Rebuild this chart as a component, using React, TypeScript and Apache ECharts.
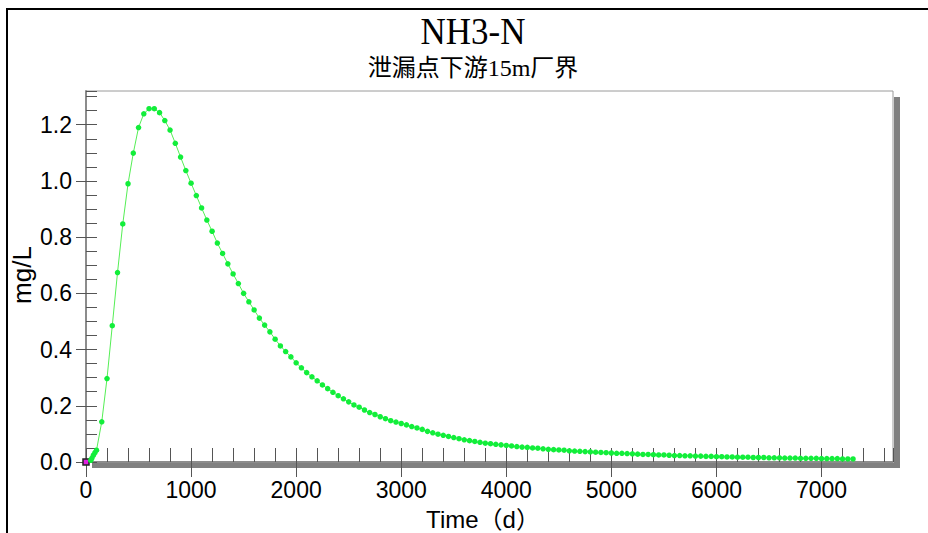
import React, { useEffect, useRef } from "react";
import * as echarts from "echarts";

// Time (d)
const times: number[] = [
  0, 45, 55, 70, 85, 100, 150, 200, 250, 300, 350, 400, 450, 500, 550, 600, 650, 700, 750, 800,
  850, 900, 950, 1000, 1050, 1100, 1150, 1200, 1250, 1300, 1350, 1400, 1450, 1500, 1550, 1600,
  1650, 1700, 1750, 1800, 1850, 1900, 1950, 2000, 2050, 2100, 2150, 2200, 2250, 2300, 2350, 2400,
  2450, 2500, 2550, 2600, 2650, 2700, 2750, 2800, 2850, 2900, 2950, 3000, 3050, 3100, 3150, 3200,
  3250, 3300, 3350, 3400, 3450, 3500, 3550, 3600, 3650, 3700, 3750, 3800, 3850, 3900, 3950, 4000,
  4050, 4100, 4150, 4200, 4250, 4300, 4350, 4400, 4450, 4500, 4550, 4600, 4650, 4700, 4750, 4800,
  4850, 4900, 4950, 5000, 5050, 5100, 5150, 5200, 5250, 5300, 5350, 5400, 5450, 5500, 5550, 5600,
  5650, 5700, 5750, 5800, 5850, 5900, 5950, 6000, 6050, 6100, 6150, 6200, 6250, 6300, 6350, 6400,
  6450, 6500, 6550, 6600, 6650, 6700, 6750, 6800, 6850, 6900, 6950, 7000, 7050, 7100, 7150, 7200,
  7250, 7300,
];

// NH3-N concentration (mg/L)
const concentration: number[] = [
  0, 0.006, 0.013, 0.024, 0.033, 0.042, 0.143, 0.297, 0.485, 0.674, 0.847, 0.99, 1.099, 1.19, 1.239, 1.257, 1.257, 1.243, 1.215, 1.181,
  1.134, 1.085, 1.037, 0.992, 0.948, 0.904, 0.861, 0.821, 0.779, 0.742, 0.705, 0.669, 0.635, 0.6, 0.57, 0.541,
  0.512, 0.487, 0.463, 0.437, 0.413, 0.393, 0.374, 0.353, 0.335, 0.318, 0.303, 0.289, 0.274, 0.261, 0.248, 0.236,
  0.225, 0.214, 0.203, 0.195, 0.185, 0.176, 0.169, 0.161, 0.154, 0.147, 0.142, 0.137, 0.132, 0.126, 0.121, 0.116,
  0.109, 0.104, 0.099, 0.095, 0.091, 0.087, 0.083, 0.079, 0.076, 0.073, 0.07, 0.067, 0.065, 0.063, 0.061, 0.059,
  0.057, 0.055, 0.053, 0.052, 0.05, 0.049, 0.047, 0.045, 0.044, 0.043, 0.042, 0.04, 0.039, 0.038, 0.037, 0.036,
  0.035, 0.034, 0.033, 0.032, 0.031, 0.031, 0.03, 0.029, 0.028, 0.027, 0.027, 0.026, 0.025, 0.025, 0.024, 0.023,
  0.023, 0.022, 0.022, 0.021, 0.021, 0.02, 0.02, 0.019, 0.019, 0.018, 0.018, 0.017, 0.017, 0.017, 0.016, 0.016,
  0.016, 0.015, 0.015, 0.015, 0.014, 0.014, 0.014, 0.013, 0.013, 0.013, 0.013, 0.012, 0.012, 0.012, 0.012, 0.011,
  0.011, 0.011,
];

const titleText = "NH3-N";
const subtitleText = "泄漏点下游15m厂界";
const xAxisName = "Time（d）";
const yAxisName = "mg/L";
const xMax = 7680;
const yMax = 1.32;

const W = 928;
const H = 533;
const G_LEFT = 86;
const G_TOP = 91;
const G_RIGHT = 893;
const G_BOTTOM = 462;

const SANS = "'Liberation Sans', Arial, sans-serif";
const SERIF = "'Liberation Serif', 'Times New Roman', 'Noto Sans CJK SC', serif";

export default function App() {
  const ref = useRef<HTMLDivElement>(null);
  useEffect(() => {
    if (!ref.current) return;
    const chart = echarts.init(ref.current, undefined, { renderer: "svg" });
    const data = times.map((t, i) => {
      if (i === 0) {
        return {
          value: [t, concentration[i]],
          symbol: "rect",
          symbolSize: 6,
          itemStyle: { color: "#e020e0", borderColor: "#222", borderWidth: 1.5 },
        };
      }
      return [t, concentration[i]];
    });
    const tickColor = "#555";
    const axisColor = "#8c8c8c";
    chart.setOption({
      animation: false,
      backgroundColor: "#fff",
      grid: {
        left: G_LEFT,
        top: G_TOP,
        width: G_RIGHT - G_LEFT,
        height: G_BOTTOM - G_TOP,
        show: true,
        backgroundColor: "#fff",
        borderColor: "#9a9a9a",
        borderWidth: 1,
      },
      xAxis: [
        {
          type: "value",
          position: "bottom",
          min: 0,
          max: xMax,
          interval: 1000,
          axisLine: { show: true, lineStyle: { color: axisColor, width: 2 } },
          axisTick: { show: true, inside: false, length: 15, lineStyle: { color: tickColor, width: 1 } },
          axisLabel: {
            show: true,
            showMaxLabel: false,
            margin: 16,
            color: "#000",
            fontSize: 23,
            fontFamily: SANS,
            formatter: (v: number) => String(v),
          },
          splitLine: { show: false },
        },
        {
          type: "value",
          position: "bottom",
          min: 0,
          max: xMax,
          interval: 200,
          axisLine: { show: false },
          axisTick: { show: true, inside: true, length: 14, lineStyle: { color: tickColor, width: 1 } },
          axisLabel: { show: false },
          splitLine: { show: false },
        },
      ],
      yAxis: [
        {
          type: "value",
          position: "left",
          min: 0,
          max: yMax,
          interval: 0.2,
          axisLine: { show: true, lineStyle: { color: axisColor, width: 2 } },
          axisTick: { show: true, inside: false, length: 10, lineStyle: { color: tickColor, width: 1 } },
          axisLabel: {
            show: true,
            showMaxLabel: false,
            margin: 14,
            color: "#000",
            fontSize: 23,
            fontFamily: SANS,
            formatter: (v: number) => v.toFixed(1),
          },
          splitLine: { show: false },
        },
        {
          type: "value",
          position: "left",
          min: 0,
          max: yMax,
          interval: 0.05,
          axisLine: { show: false },
          axisTick: { show: true, inside: true, length: 11, lineStyle: { color: tickColor, width: 1 } },
          axisLabel: { show: false },
          splitLine: { show: false },
        },
      ],
      series: [
        {
          type: "line",
          xAxisIndex: 0,
          yAxisIndex: 0,
          data,
          symbol: "circle",
          symbolSize: 5.5,
          showSymbol: true,
          lineStyle: { color: "#55ee55", width: 1 },
          itemStyle: { color: "#12ee3a" },
          z: 5,
        },
      ],
      graphic: [
        {
          type: "rect",
          shape: { x: 7, y: 9, width: 1000, height: 1000 },
          style: { fill: "none", stroke: "#000", lineWidth: 2 },
          silent: true,
        },
        {
          type: "rect",
          shape: { x: G_RIGHT + 1, y: G_TOP + 6, width: 6, height: G_BOTTOM - G_TOP },
          style: { fill: "#808080" },
          silent: true,
        },
        {
          type: "rect",
          shape: { x: G_LEFT + 6, y: G_BOTTOM + 1, width: G_RIGHT - G_LEFT, height: 5 },
          style: { fill: "#808080" },
          silent: true,
        },
        {
          type: "text",
          x: 473,
          y: 31,
          scaleY: 1.1,
          style: {
            text: titleText,
            fontSize: 35,
            fontFamily: SERIF,
            fill: "#000",
            textAlign: "center",
            textVerticalAlign: "middle",
          },
        },
        {
          type: "text",
          x: 473,
          y: 68,
          style: {
            text: subtitleText,
            fontSize: 24,
            fontFamily: SERIF,
            fill: "#000",
            textAlign: "center",
            textVerticalAlign: "middle",
          },
        },
        {
          type: "text",
          x: 483,
          y: 519,
          style: {
            text: xAxisName,
            fontSize: 24,
            fontFamily: SANS + ", 'Noto Sans CJK SC'",
            fill: "#000",
            textAlign: "center",
            textVerticalAlign: "middle",
          },
        },
        {
          type: "text",
          x: 22,
          y: 275,
          rotation: Math.PI / 2,
          style: {
            text: yAxisName,
            fontSize: 26,
            fontFamily: SANS,
            fill: "#000",
            textAlign: "center",
            textVerticalAlign: "middle",
          },
        },
      ],
    });
    return () => chart.dispose();
  }, []);
  return (
    <div
      ref={ref}
      style={{ position: "fixed", left: 0, top: 0, width: W, height: H, background: "#fff" }}
    />
  );
}
